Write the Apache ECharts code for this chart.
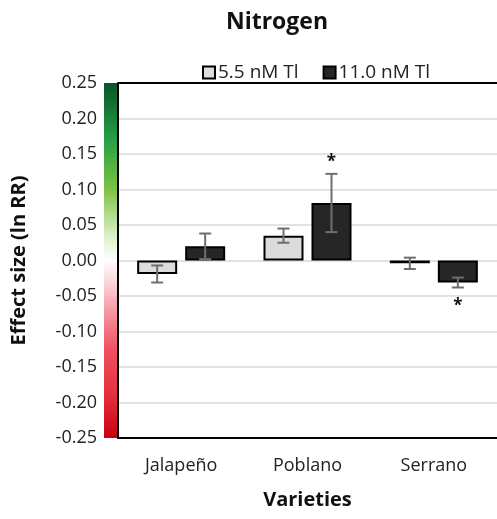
<!DOCTYPE html>
<html>
<head>
<meta charset="utf-8">
<script src="https://cdn.jsdelivr.net/npm/echarts@6/dist/echarts.min.js"></script>
<style>
  html, body { margin: 0; padding: 0; background: #fff; }
  #chart { width: 497px; height: 519px; }
</style>
</head>
<body>
<div id="chart"></div>
<script>
// data
const varieties = ['Jalapeño', 'Poblano', 'Serrano'];
const low = [-0.019, 0.035, -0.004];      // 5.5 nM Tl
const lowErr = [0.012, 0.010, 0.008];
const lowSig = ['', '', ''];
const high = [0.020, 0.081, -0.031];      // 11.0 nM Tl
const highErr = [0.018, 0.041, 0.007];
const highSig = ['', '*', '*'];
const yTicks = { min: -0.25, max: 0.25, step: 0.05 };

const FONT = '"Open Sans", "Noto Sans", sans-serif';
const BAR_W = 40;
const OFFSET = 24; // half bar + half gap

const chart = echarts.init(document.getElementById('chart'));

function errSeries(name, vals, errs, sig, shift) {
  return {
    name: name + ' err',
    type: 'custom',
    z: 5,
    data: vals.map((v, i) => [i, v, errs[i]]),
    renderItem: (params, api) => {
      const i = api.value(0), v = api.value(1), e = api.value(2);
      const s = sig[i];
      const top = api.coord([i, v + e]);
      const bot = api.coord([i, v - e]);
      const x = top[0] + shift;
      const cap = 6;
      const style = { stroke: '#6e6e6e', lineWidth: 2 };
      const children = [
        { type: 'line', shape: { x1: x, y1: top[1], x2: x, y2: bot[1] }, style },
        { type: 'line', shape: { x1: x - cap, y1: top[1], x2: x + cap, y2: top[1] }, style },
        { type: 'line', shape: { x1: x - cap, y1: bot[1], x2: x + cap, y2: bot[1] }, style }
      ];
      if (s) {
        const above = v >= 0;
        children.push({
          type: 'text',
          style: {
            text: s, x: x, y: above ? top[1] - 3 : bot[1] + 10,
            align: 'center', verticalAlign: above ? 'bottom' : 'top',
            font: 'bold 17px ' + FONT, fill: '#111'
          }
        });
      }
      return { type: 'group', children };
    }
  };
}

const option = {
  backgroundColor: '#fff',
  animation: false,
  title: {
    text: 'Nitrogen',
    left: 272, top: 6,
    textAlign: 'center',
    textStyle: { fontFamily: FONT, fontSize: 23, fontWeight: 'bold', color: '#111' }
  },
  legend: {
    data: ['5.5 nM Tl', '11.0 nM Tl'],
    left: 197, top: 58,
    icon: 'rect',
    itemWidth: 12, itemHeight: 12, itemGap: 24,
    textStyle: { fontFamily: FONT, fontSize: 19, color: '#222', padding: [0, 0, 0, -2] }
  },
  graphic: [{
    type: 'rect',
    left: 104, top: 83,
    shape: { width: 14, height: 355 },
    style: {
      fill: new echarts.graphic.LinearGradient(0, 0, 0, 1, [
        { offset: 0, color: '#0b5428' },
        { offset: 0.16, color: '#27a046' },
        { offset: 0.3, color: '#7cc242' },
        { offset: 0.43, color: '#dcefc8' },
        { offset: 0.5, color: '#ffffff' },
        { offset: 0.56, color: '#fbd6dc' },
        { offset: 0.64, color: '#f59aa5' },
        { offset: 0.75, color: '#f05060' },
        { offset: 0.88, color: '#e4303c' },
        { offset: 1, color: '#c80010' }
      ])
    }
  }],
  grid: { left: 118, right: -2, top: 83, bottom: 81 },
  xAxis: {
    type: 'category',
    data: varieties,
    position: 'bottom',
    name: 'Varieties',
    nameLocation: 'middle',
    nameGap: 52,
    nameTextStyle: { fontFamily: FONT, fontSize: 20, fontWeight: 'bold', color: '#111' },
    axisLine: { onZero: false, lineStyle: { color: '#000', width: 2 } },
    axisTick: { show: false },
    axisLabel: { fontFamily: FONT, fontSize: 18, color: '#222', margin: 19 }
  },
  yAxis: {
    type: 'value',
    min: yTicks.min, max: yTicks.max, interval: yTicks.step,
    name: 'Effect size (ln RR)',
    nameLocation: 'middle',
    nameRotate: 90,
    nameGap: 89,
    nameTextStyle: { fontFamily: FONT, fontSize: 20, fontWeight: 'bold', color: '#111' },
    axisLine: { show: true, lineStyle: { color: '#000', width: 2 } },
    axisTick: { show: false },
    axisLabel: {
      fontFamily: FONT, fontSize: 18, color: '#222', margin: 21,
      formatter: v => v.toFixed(2)
    },
    splitLine: { lineStyle: { color: '#d9d9d9', width: 1.5 } }
  },
  series: [
    {
      name: '5.5 nM Tl',
      type: 'bar',
      data: low,
      barWidth: BAR_W,
      barGap: '20%',
      itemStyle: { color: '#dcdcdc', borderColor: '#000', borderWidth: 2 }
    },
    {
      name: '11.0 nM Tl',
      type: 'bar',
      data: high,
      barWidth: BAR_W,
      itemStyle: { color: '#262626', borderColor: '#000', borderWidth: 2 },
      markLine: {
        silent: true, symbol: 'none', label: { show: false },
        lineStyle: { color: '#000', width: 2, type: 'solid' },
        data: [{ yAxis: yTicks.max }]
      }
    },
    errSeries('5.5 nM Tl', low, lowErr, lowSig, -OFFSET),
    errSeries('11.0 nM Tl', high, highErr, highSig, OFFSET)
  ]
};

chart.setOption(option);
</script>
</body>
</html>
